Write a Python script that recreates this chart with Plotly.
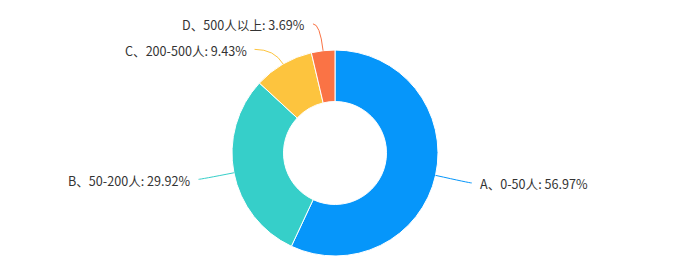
import math
import plotly.graph_objects as go

categories = ["A、0-50人", "B、50-200人", "C、200-500人", "D、500人以上"]
values = [56.97, 29.92, 9.43, 3.69]
colors = ["#0696fa", "#36cfc9", "#fdc43e", "#fa7345"]

W, H = 684, 273
CX, CY, R = 335, 153, 103
leg1 = [35, 34, 17, 27]
leg2 = [2, 2, 20, 7]

fig = go.Figure()
fig.add_trace(go.Pie(
    labels=categories, values=values, sort=False, direction="clockwise",
    rotation=0, hole=0.5, textinfo="none", hoverinfo="label+percent",
    marker=dict(colors=colors, line=dict(color="#ffffff", width=1)),
    domain=dict(x=[(CX - R) / W, (CX + R) / W], y=[1 - (CY + R) / H, 1 - (CY - R) / H]),
    showlegend=False,
))

total = sum(values)
cum = 0
shapes, annotations = [], []
for i, (lab, v) in enumerate(zip(categories, values)):
    mid = (cum + v / 2) / total * 2 * math.pi
    cum += v
    s, c = math.sin(mid), math.cos(mid)
    x0, y0 = CX + R * s, CY - R * c
    x1, y1 = CX + (R + leg1[i]) * s, CY - (R + leg1[i]) * c
    side = 1 if s >= 0 else -1
    x2, y2 = x1 + side * leg2[i], y1
    path = f"M {x0},{y0} Q {x1},{y1} {x2},{y2}"
    shapes.append(dict(type="path", path=path, xref="x", yref="y",
                       line=dict(color=colors[i], width=1)))
    annotations.append(dict(
        x=x2 + side * 6, y=y2 + 1, xref="x", yref="y", showarrow=False,
        text=f"{lab}: {v:.2f}%", xanchor="left" if side > 0 else "right",
        yanchor="middle", font=dict(family="Noto Sans CJK SC, Microsoft YaHei, sans-serif", size=12.6, color="#333333"),
    ))

fig.update_layout(
    width=W, height=H, margin=dict(l=0, r=0, t=0, b=0),
    paper_bgcolor="#ffffff", plot_bgcolor="rgba(0,0,0,0)",
    xaxis=dict(range=[0, W], visible=False, domain=[0, 1], fixedrange=True),
    yaxis=dict(range=[H, 0], visible=False, domain=[0, 1], fixedrange=True),
    shapes=shapes, annotations=annotations,
)
fig.write_html("out.html")
